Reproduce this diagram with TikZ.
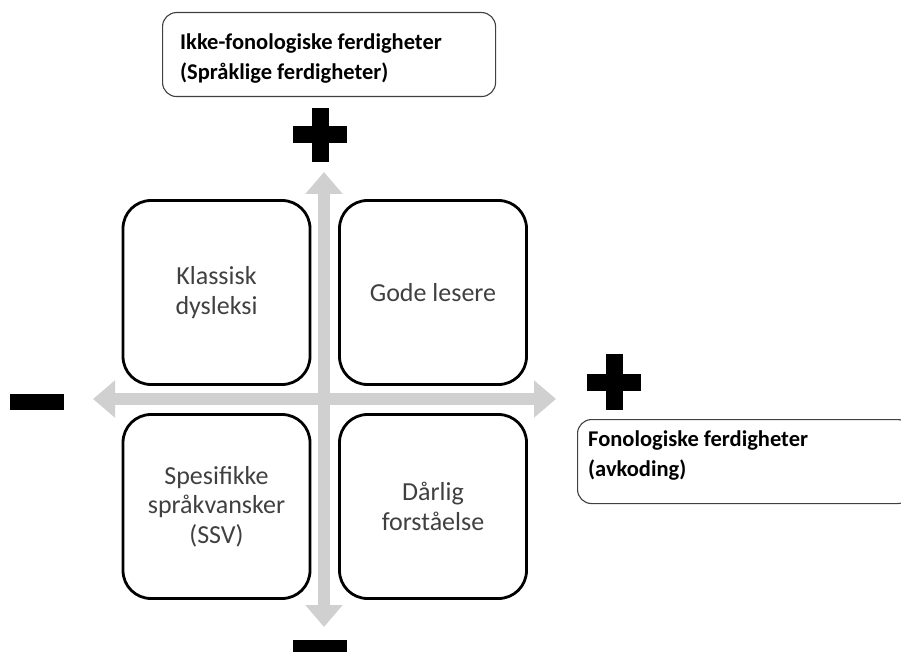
\documentclass[tikz,border=0pt]{standalone}
\usepackage{fontspec}
\setmainfont{Carlito}
\usetikzlibrary{arrows.meta}
\definecolor{axisgray}{HTML}{D0D0D0}
\definecolor{txtgray}{HTML}{404040}
\definecolor{boxline}{HTML}{404040}
\begin{document}
\begin{tikzpicture}[x=1pt,y=-1pt,
  quad/.style={draw=black, line width=2.8pt, rounded corners=28pt,
    minimum width=187pt, minimum height=184pt, align=center,
    font=\fontsize{26}{29.5}\selectfont, text=txtgray, inner sep=0pt},
  lbox/.style={draw=boxline, line width=1.1pt, rounded corners=14pt,
    anchor=north west, inner sep=0pt},
  ltext/.style={anchor=north west, align=left, inner sep=0pt,
    font=\bfseries\fontsize{22.5}{30}\selectfont},
  axisarrow/.style={axisgray, line width=12pt,
    {Triangle[length=22pt,width=36pt]}-{Triangle[length=22pt,width=36pt]}},
  hbar/.style={fill=black, inner sep=0pt, minimum width=54pt, minimum height=17pt},
  vbar/.style={fill=black, inner sep=0pt, minimum width=17pt, minimum height=54pt}
]
\useasboundingbox (0,0) rectangle (901,652);

% axes
\coordinate (vtop) at (324,172);
\coordinate (vbot) at (324,627);
\coordinate (hleft) at (93,399);
\coordinate (hright) at (556,399);
\draw[axisarrow] (vbot) -- (vtop);
\draw[axisarrow] (hleft) -- (hright);

% quadrants
\node[quad] (tl) at (216.5,292.5) {Klassisk\\dysleksi};
\node[quad] (tr) at (433,292.5) {Gode lesere};
\node[quad] (bl) at (216.5,506.5) {Spesifikke\\språkvansker\\(SSV)};
\node[quad] (br) at (433,506.5) {Dårlig\\forståelse};

% plus / minus signs
\node[hbar] (ptoph) at (320,135) {};
\node[vbar] (ptopv) at (320,135) {};
\node[hbar] (prighth) at (614,382) {};
\node[vbar, minimum height=56pt] (prightv) at (614,382) {};
\node[hbar, minimum height=16pt] (mleft) at (37,402) {};
\node[hbar] (mbottom) at (320,648.5) {};

% labels
\node[lbox, minimum width=333pt, minimum height=84pt] (ybox) at (162,12) {};
\node[ltext] (ytext) at (180,34) {Ikke-fonologiske ferdigheter\\(Språklige ferdigheter)};
\node[lbox, minimum width=334pt, minimum height=84pt] (xbox) at (577,419) {};
\node[ltext] (xtext) at (588,431) {Fonologiske ferdigheter\\(avkoding)};
\end{tikzpicture}
\end{document}
